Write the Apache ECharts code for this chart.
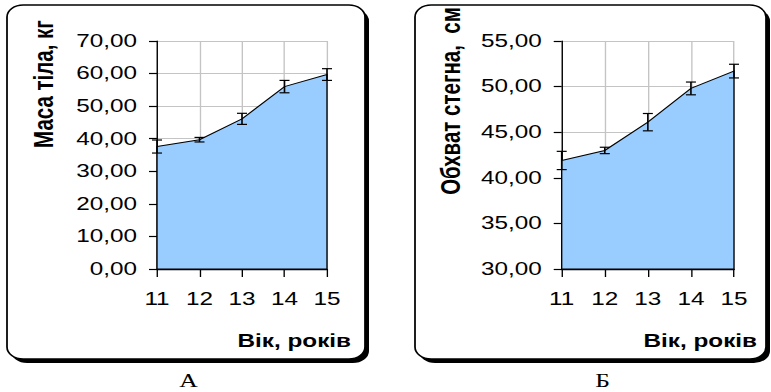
<!DOCTYPE html>
<html>
<head>
<meta charset="utf-8">
<script src="https://cdn.jsdelivr.net/npm/echarts@6/dist/echarts.min.js"></script>
<style>
  html, body { margin: 0; padding: 0; background: #fff; overflow: hidden; }
  #wrap { width: 771px; height: 392px; overflow: hidden; }
  /* the figure is drawn narrow and widened horizontally, as in the printed page */
  #chart { width: 572px; height: 392px; transform: scaleX(1.35); transform-origin: 0 0; }
</style>
</head>
<body>
<div id="wrap"><div id="chart"></div></div>
<script>
// Age groups (years)
const ages = ['11', '12', '13', '14', '15'];

// Panel A: body mass, kg (mean and error)
const massMean = [37.6, 39.7, 46.1, 56.0, 59.7];
const massErr  = [2.0, 0.7, 1.7, 1.9, 1.8];
const massAxis = { min: 0, max: 70, interval: 10 };

// Panel B: thigh circumference, cm (mean and error)
const thighMean = [41.9, 43.0, 46.1, 49.8, 51.7];
const thighErr  = [1.0, 0.35, 0.95, 0.7, 0.75];
const thighAxis = { min: 30, max: 55, interval: 5 };

// Texts
const massTitle  = 'Маса тіла, кг';
const thighTitle = 'Обхват стегна,  см';
const ageTitle   = 'Вік, років';
const panelNames = ['А', 'Б'];

// horizontal stretch applied by CSS; layout below is given in page pixels
const SX = 1.35;
const px = v => v / SX;

const SANS = '"Liberation Sans", Arial, sans-serif';
const SERIF = '"Liberation Serif", "Times New Roman", serif';

const fmt = v => v.toFixed(2).replace('.', ',');

function areaRenderer(values, yMin) {
  return function (params, api) {
    if (params.dataIndex !== 0) return null;
    const pts = values.map((v, i) => api.coord([i, v]));
    pts.push(api.coord([values.length - 1, yMin]));
    pts.push(api.coord([0, yMin]));
    return {
      type: 'polygon',
      shape: { points: pts },
      style: { fill: '#99CCFF', stroke: '#000', lineWidth: 1 }
    };
  };
}

function errorRenderer(params, api) {
  const i = api.value(0), m = api.value(1), e = api.value(2);
  const hi = api.coord([i, m + e]);
  const lo = api.coord([i, m - e]);
  const c = px(5);
  const st = { stroke: '#000', lineWidth: 1.2 };
  return {
    type: 'group',
    children: [
      { type: 'line', shape: { x1: hi[0], y1: hi[1], x2: lo[0], y2: lo[1] }, style: st },
      { type: 'line', shape: { x1: hi[0] - c, y1: hi[1], x2: hi[0] + c, y2: hi[1] }, style: st },
      { type: 'line', shape: { x1: lo[0] - c, y1: lo[1], x2: lo[0] + c, y2: lo[1] }, style: st }
    ]
  };
}

function xAxisFor(gridIndex) {
  return {
    type: 'category', gridIndex, data: ages, boundaryGap: false,
    axisLine: { lineStyle: { color: '#000', width: 1.3 } },
    axisTick: { show: true, length: 8, lineStyle: { color: '#000', width: 1 } },
    axisLabel: { color: '#000', fontFamily: SANS, fontSize: 18, margin: 21 },
    splitLine: { show: true, lineStyle: { color: '#c4c4c4', width: 1 } }
  };
}

function yAxisFor(gridIndex, ax) {
  return {
    type: 'value', gridIndex, min: ax.min, max: ax.max, interval: ax.interval,
    axisLine: { show: true, lineStyle: { color: '#000', width: 1 } },
    axisTick: { show: true, length: px(8), lineStyle: { color: '#000', width: 1.2 } },
    axisLabel: { color: '#000', fontFamily: SANS, fontSize: 18, margin: px(20), formatter: fmt },
    splitLine: { show: true, lineStyle: { color: '#c4c4c4', width: 1 } }
  };
}

function frame(x1, x2, y1, y2) {
  const w = px(x2 - x1), h = y2 - y1;
  return [
    { type: 'rect', z: -20, shape: { x: px(x1) + px(4), y: y1 + 4, width: w, height: h, r: 12 },
      style: { fill: '#000' } },
    { type: 'rect', z: -19, shape: { x: px(x1), y: y1, width: w, height: h, r: 12 },
      style: { fill: '#fff', stroke: '#000', lineWidth: 1.3 } }
  ];
}

function label(text, x, y, font, align, rot) {
  return {
    type: 'text', z: 50, x: px(x), y, rotation: rot || 0,
    style: {
      text, font, fill: '#000',
      align: align, verticalAlign: 'middle',
      textAlign: align, textVerticalAlign: 'middle'
    }
  };
}

const chart = echarts.init(document.getElementById('chart'), null, { renderer: 'svg' });

chart.setOption({
  backgroundColor: '#fff',
  animation: false,
  grid: [
    { left: px(157), top: 41, width: px(170), height: 228 },
    { left: px(561.7), top: 41, width: px(172.3), height: 228 }
  ],
  xAxis: [xAxisFor(0), xAxisFor(1)],
  yAxis: [yAxisFor(0, massAxis), yAxisFor(1, thighAxis)],
  series: [
    { type: 'custom', xAxisIndex: 0, yAxisIndex: 0, z: 3,
      renderItem: areaRenderer(massMean, massAxis.min),
      data: massMean.map((v, i) => [i, v]) },
    { type: 'custom', xAxisIndex: 0, yAxisIndex: 0, z: 4,
      renderItem: errorRenderer,
      data: massMean.map((v, i) => [i, v, massErr[i]]) },
    { type: 'custom', xAxisIndex: 1, yAxisIndex: 1, z: 3,
      renderItem: areaRenderer(thighMean, thighAxis.min),
      data: thighMean.map((v, i) => [i, v]) },
    { type: 'custom', xAxisIndex: 1, yAxisIndex: 1, z: 4,
      renderItem: errorRenderer,
      data: thighMean.map((v, i) => [i, v, thighErr[i]]) }
  ],
  graphic: [
    ...frame(7, 365, 5, 359),
    ...frame(415, 766, 5, 359),
    label(massTitle, 43, 84, 'bold 20.5px ' + SANS, 'center', Math.PI / 2),
    label(thighTitle, 450, 101, 'bold 20.5px ' + SANS, 'center', Math.PI / 2),
    label(ageTitle, 351, 341, 'bold 18px ' + SANS, 'right'),
    label(ageTitle, 757, 341, 'bold 18px ' + SANS, 'right'),
    label(panelNames[0], 188.5, 381, '19px ' + SERIF, 'center'),
    label(panelNames[1], 602.5, 381, '19px ' + SERIF, 'center')
  ]
});
</script>
</body>
</html>
